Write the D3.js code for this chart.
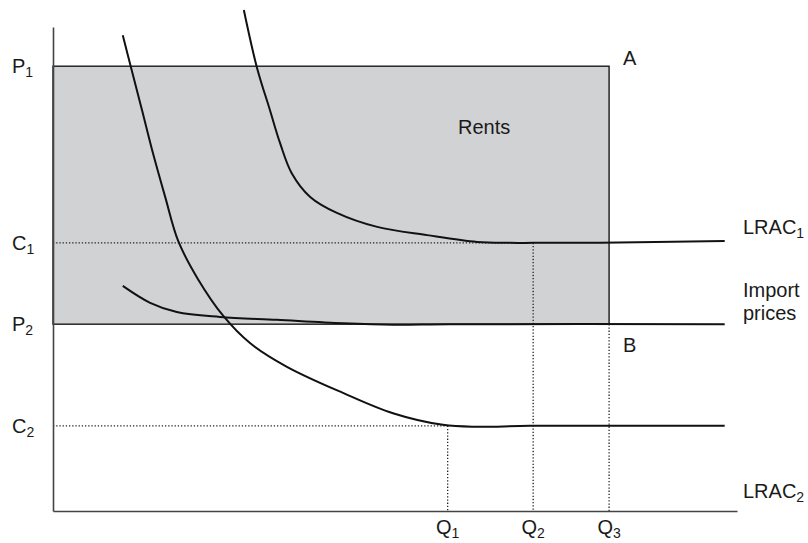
<!DOCTYPE html>
<html>
<head>
<meta charset="utf-8">
<script src="https://cdn.jsdelivr.net/npm/d3@7"></script>
<style>
  body { margin: 0; background: #fff; }
  text { font-family: "Liberation Sans", Arial, Helvetica, sans-serif; fill: #1a1a1a; }
</style>
</head>
<body>
<div id="chart-container"></div>
<script>
// levels on the price axis (0-100 units)
const priceLevels = [
    { name: 'P', sub: '1', value: 91.9 },
    { name: 'C', sub: '1', value: 55.4 },
    { name: 'P', sub: '2', value: 38.6 },
    { name: 'C', sub: '2', value: 17.6 }
]
// quantities on the x axis (0-100 units)
const quantities = [
    { name: 'Q', sub: '1', value: 57.7 },
    { name: 'Q', sub: '2', value: 70.2 },
    { name: 'Q', sub: '3', value: 81.3 }
]

// curves: [quantity, cost]
const lrac1 = [
    [27.9, 103.5], [29.8, 91.7], [31.7, 82.9], [33.2, 76.0], [34.9, 69.8],
    [37.6, 64.9], [41.5, 61.6], [47.4, 58.7], [54.7, 57.0], [62.0, 55.6],
    [66.8, 55.4], [70.2, 55.4], [80.0, 55.4], [98.2, 55.8]
]
const lrac2 = [
    [10.2, 98.3], [11.5, 91.1], [13.0, 82.9], [14.6, 74.0], [16.4, 64.9],
    [18.3, 55.8], [21.2, 47.9], [24.9, 40.3], [28.8, 34.7], [34.2, 29.8],
    [42.4, 24.4], [49.7, 20.2], [57.0, 17.8], [62.0, 17.4], [69.7, 17.6],
    [98.2, 17.6]
]
const importPrices = [
    [10.2, 46.5], [14.2, 43.0], [18.1, 41.1], [24.4, 40.1], [32.7, 39.5],
    [42.4, 38.8], [49.7, 38.5], [58.0, 38.6], [98.2, 38.6]
]

const width = 808
const height = 543

// x en y schalen
const xScale = d3.scaleLinear().domain([0, 100]).range([53, 737])
const yScale = d3.scaleLinear().domain([0, 100]).range([511, 27])

const P1 = priceLevels[0].value
const C1 = priceLevels[1].value
const P2 = priceLevels[2].value
const C2 = priceLevels[3].value
const Q1 = quantities[0].value
const Q2 = quantities[1].value
const Q3 = quantities[2].value

const svg = d3.select('#chart-container')
    .append('svg')
    .attr('width', width)
    .attr('height', height)

// grey rents area between P1 and P2 up to Q3
svg.append('rect')
    .attr('x', xScale(0))
    .attr('y', yScale(P1))
    .attr('width', xScale(Q3) - xScale(0))
    .attr('height', yScale(P2) - yScale(P1))
    .attr('fill', '#d1d2d4')
    .attr('stroke', '#1a1a1a')
    .attr('stroke-width', 1.4)

// dotted guide lines
const dotted = [
    [[0, C1], [Q2, C1]],
    [[Q2, C1], [Q2, 0]],
    [[0, C2], [Q1, C2]],
    [[Q1, C2], [Q1, 0]],
    [[Q3, P2], [Q3, 0]]
]
svg.selectAll('.guide')
    .data(dotted)
    .enter()
    .append('line')
    .attr('class', 'guide')
    .attr('x1', d => xScale(d[0][0]))
    .attr('y1', d => yScale(d[0][1]))
    .attr('x2', d => xScale(d[1][0]))
    .attr('y2', d => yScale(d[1][1]))
    .attr('stroke', '#222')
    .attr('stroke-width', 1.3)
    .attr('stroke-dasharray', '1.3 1.9')

// curves
const line = d3.line()
    .x(d => xScale(d[0]))
    .y(d => yScale(d[1]))
    .curve(d3.curveCatmullRom.alpha(0.5))

svg.selectAll('.curve')
    .data([lrac1, lrac2, importPrices])
    .enter()
    .append('path')
    .attr('class', 'curve')
    .attr('d', line)
    .attr('fill', 'none')
    .attr('stroke', '#111')
    .attr('stroke-width', 2)

// assen zonder ticks
svg.append('g')
    .attr('transform', `translate(0, ${yScale(0)})`)
    .call(d3.axisBottom(xScale).tickValues([]).tickSizeOuter(0))
    .select('.domain').attr('stroke', '#444').attr('stroke-width', 1.6)

svg.append('g')
    .attr('transform', `translate(${xScale(0)}, 0)`)
    .call(d3.axisLeft(yScale).tickValues([]).tickSizeOuter(0))
    .select('.domain').attr('stroke', '#444').attr('stroke-width', 1.6)

// label met subscript
function subLabel(x, y, name, sub, anchor) {
    const t = svg.append('text')
        .attr('x', x)
        .attr('y', y)
        .attr('text-anchor', anchor || 'start')
        .style('font-size', '20px')
    t.append('tspan').text(name)
    if (sub) {
        t.append('tspan')
            .attr('dy', 4)
            .style('font-size', '14px')
            .text(sub)
    }
    return t
}

priceLevels.forEach(d => subLabel(12, yScale(d.value) + 7, d.name, d.sub))
quantities.forEach(d => subLabel(xScale(d.value), 534, d.name, d.sub, 'middle'))

subLabel(xScale(Q3) + 14, yScale(P1) - 1, 'A')
subLabel(xScale(Q3) + 14, yScale(P2) + 28, 'B')
subLabel(458, 134, 'Rents')
subLabel(743, 234, 'LRAC', '1')
subLabel(743, 297, 'Import')
subLabel(743, 320, 'prices')
subLabel(743, 498, 'LRAC', '2')
</script>
</body>
</html>
